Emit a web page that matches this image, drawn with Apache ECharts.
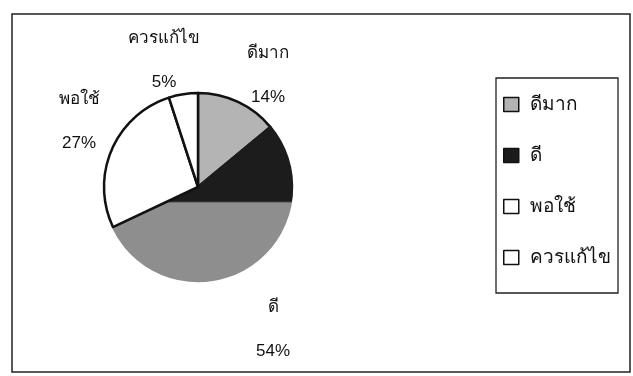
<!DOCTYPE html>
<html>
<head>
<meta charset="utf-8">
<script src="https://cdn.jsdelivr.net/npm/echarts@6/dist/echarts.min.js"></script>
<style>
  html, body { margin: 0; padding: 0; background: #fff; }
  #chart { width: 633px; height: 376px; }
</style>
</head>
<body>
<div id="chart"></div>
<script>
// Satisfaction levels and their shares (percent)
const categories = ['ดีมาก', 'ดี', 'พอใช้', 'ควรแก้ไข'];
const shares = [14, 54, 27, 5];

// Label block centres, one per slice
const labelCentres = [[268, 75], [273, 329], [79, 121], [164, 60]];

const FONT = "'Liberation Sans', 'Noto Sans', 'DejaVu Sans', sans-serif";

// "ดี" slice: dark in its upper part, faded grey in its lower part
const goodFill = {
  type: 'linear', x: 0, y: 0, x2: 0, y2: 376, global: true,
  colorStops: [
    { offset: 0, color: '#1c1c1c' },
    { offset: 0.535, color: '#1c1c1c' },
    { offset: 0.54, color: '#8e8e8e' },
    { offset: 1, color: '#8e8e8e' }
  ]
};

const sliceStyles = [
  { color: '#b4b4b4', borderColor: '#111' },
  { color: goodFill, borderColor: goodFill },
  { color: '#ffffff', borderColor: '#111' },
  { color: '#ffffff', borderColor: '#111' }
];

const chart = echarts.init(document.getElementById('chart'));
chart.setOption({
  animation: false,
  backgroundColor: '#ffffff',
  graphic: [
    { type: 'rect', shape: { x: 12, y: 14, width: 618, height: 358 },
      style: { fill: 'none', stroke: '#222', lineWidth: 1.5 }, z: -1 },
    { type: 'rect', shape: { x: 496, y: 78, width: 122, height: 215 },
      style: { fill: 'none', stroke: '#222', lineWidth: 1.3 }, z: -1 }
  ],
  legend: {
    orient: 'vertical',
    left: 503,
    top: 95,
    itemWidth: 15,
    itemHeight: 14,
    itemGap: 32,
    padding: 0,
    icon: 'rect',
    data: categories,
    itemStyle: { borderColor: '#111', borderWidth: 1.5 },
    textStyle: { fontFamily: FONT, fontSize: 19, color: '#111', padding: [0, 0, 0, 6] }
  },
  series: [{
    type: 'pie',
    center: [198, 187],
    radius: 94,
    startAngle: 90,
    clockwise: true,
    data: categories.map((name, i) => ({
      name,
      value: shares[i],
      itemStyle: Object.assign({ borderWidth: 2.5 }, sliceStyles[i])
    })),
    label: {
      show: true,
      position: 'outside',
      formatter: '{b}\n\n{d}%',
      fontFamily: FONT,
      fontSize: 17,
      lineHeight: 22,
      color: '#111',
      align: 'center'
    },
    labelLine: { show: false },
    labelLayout: (p) => ({
      x: labelCentres[p.dataIndex][0],
      y: labelCentres[p.dataIndex][1],
      align: 'center',
      verticalAlign: 'middle'
    }),
    emphasis: { disabled: true }
  }]
});
</script>
</body>
</html>
